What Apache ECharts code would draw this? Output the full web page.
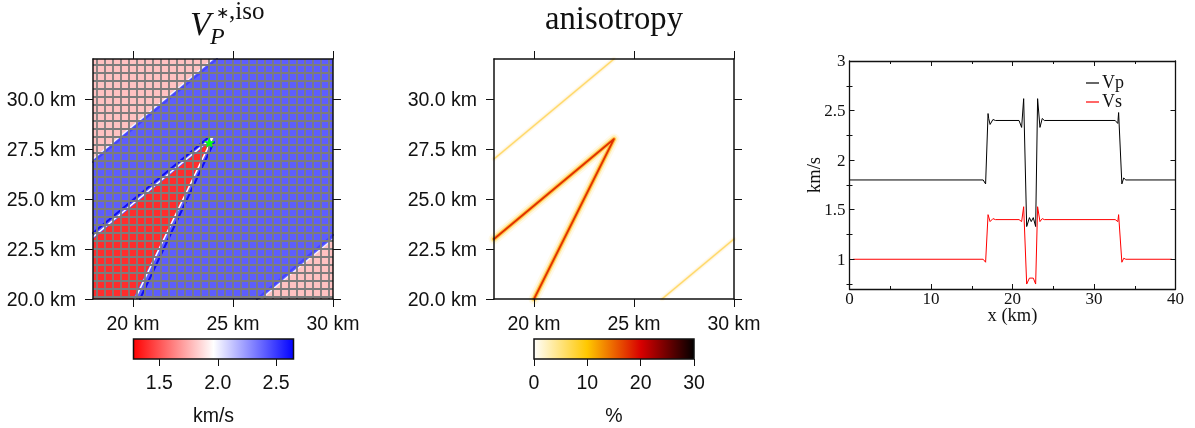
<!DOCTYPE html>
<html><head><meta charset="utf-8">
<style>html,body{margin:0;padding:0;background:#fff}#c{width:1195px;height:428px}</style>
<script src="https://cdn.jsdelivr.net/npm/echarts@6/dist/echarts.min.js"></script>
</head><body><div id="c"></div>
<script>
// ---- data ----
const mapXTicks = [20, 25, 30];
const mapYTicks = [20, 22.5, 25, 27.5, 30];
const meshX = [18.2,18.6,19,19.4,19.8,20.2,20.6,21,21.4,21.8,22.2,22.6,23,23.4,23.8,24.2,24.6,25,25.4,25.8,26.2,26.6,27,27.4,27.8,28.2,28.6,29,29.4,29.8];
const meshY = [20.1,20.5,20.9,21.3,21.7,22.1,22.5,22.9,23.3,23.7,24.1,24.5,24.9,25.3,25.7,26.1,26.5,26.9,27.3,27.7,28.1,28.5,28.9,29.3,29.7,30.1,30.5,30.9,31.3,31.7];
const fullBox = [[18, 20], [30, 20], [30, 32], [18, 32]];
const pinkUpper = [[18, 27], [24, 32], [18, 32]];
const pinkLower = [[26.4, 20], [30, 20], [30, 23]];
const redWedge = [[18, 20], [20, 20], [24, 28], [18, 23]];
const vpBackground = 2.4, vpPink = 1.8, vpRed = 1.4;
const ripplePinkUpper = [[18, 26.85], [24.2, 32]];
const ripplePinkLower = [[26.2, 20], [30, 23.2]];
const whiteEdgeUpper = [[18, 27], [24, 32]];
const whiteEdgeLower = [[26.4, 20], [30, 23]];
const whiteWedge = [[18, 23.1], [24, 28.1], [20.1, 20]];
const darkWedgeUpper = [[18, 23.3], [23.8, 28.1]];
const darkWedgeRight = [[24.05, 27.85], [20.35, 20]];
const starPoint = [[23.82, 27.82]];
const fractureUpper = [[18, 27], [24, 32]];
const fractureLower = [[26.4, 20], [30, 23]];
const fractureWedge = [[18, 23], [24, 28], [20, 20]];
const vpRange = [1.278, 2.649];
const vpBarTicks = [1.5, 2, 2.5];
const anisoRange = [0, 30];
const anisoBarTicks = [0, 10, 20, 30];
const profileYTicks = [1, 1.5, 2, 2.5, 3];
const profileYMinorTicks = [0.75, 1.25, 1.75, 2.25, 2.75];
const vpProfile = [[0,1.8],[16.4,1.8],[16.55,1.82],[16.7,1.76],[17.0,2.47],[17.08,2.42],[17.25,2.36],[17.6,2.41],[17.9,2.4],[20.8,2.4],[20.95,2.42],[21.12,2.33],[21.37,2.62],[21.74,1.33],[22.08,1.42],[22.3,1.38],[22.55,1.42],[22.84,1.33],[23.08,2.62],[23.37,2.33],[23.65,2.42],[23.9,2.4],[32.6,2.4],[32.8,2.41],[32.92,2.37],[33.02,2.48],[33.42,1.76],[33.65,1.82],[33.9,1.8],[40,1.8]];
const vsProfile = [[0.5,1],[16.4,1],[16.55,1.01],[16.7,0.97],[17.0,1.45],[17.25,1.38],[17.6,1.41],[17.9,1.4],[20.8,1.4],[20.95,1.41],[21.12,1.38],[21.37,1.53],[21.74,0.75],[22.08,0.81],[22.3,0.79],[22.55,0.81],[22.84,0.75],[23.08,1.53],[23.37,1.38],[23.65,1.41],[23.9,1.4],[32.6,1.4],[32.8,1.41],[32.92,1.38],[33.02,1.45],[33.42,0.97],[33.65,1.01],[33.9,1],[39.5,1]];

// ---- helpers ----
const FONT = '"Liberation Sans",Helvetica,Arial,sans-serif';
const SERIF = '"Liberation Serif","Times New Roman",serif';
const chart = echarts.init(document.getElementById('c'), null, {renderer:'canvas'});
const STAR = 'path://M50 0 L62 35 L98 35 L69 57 L80 92 L50 71 L20 92 L31 57 L2 35 L38 35 Z';

function vpColor(v){
  const mid=(vpRange[0]+vpRange[1])/2, half=(vpRange[1]-vpRange[0])/2;
  const t=(v-mid)/half;
  const k=Math.round(255*(1-Math.abs(t)));
  return t<0 ? `rgb(255,${k},${k})` : `rgb(${k},${k},255)`;
}
const vpStops=[{offset:0,color:'#ff0000'},{offset:0.5,color:'#ffffff'},{offset:1,color:'#0000ff'}];
const anisoStops=[{offset:0,color:'#ffffff'},{offset:1/3,color:'#ffc800'},{offset:2/3,color:'#d80000'},{offset:1,color:'#000000'}];

const xAxis=[],yAxis=[],grid=[],series=[];
const frame={show:true,onZero:false,lineStyle:{color:'#111',width:1.5}};
const tick={show:true,length:8,inside:false,lineStyle:{color:'#111',width:1}};

function mapPanel(left){
  const g=grid.length;
  grid.push({left,top:59,width:240,height:240,containLabel:false});
  const xi=xAxis.length, yi=yAxis.length;
  xAxis.push({type:'value',gridIndex:g,position:'bottom',min:18,max:30,z:6,axisLine:frame,
    axisTick:{...tick,customValues:mapXTicks},splitLine:{show:false},
    axisLabel:{customValues:mapXTicks,margin:16,fontFamily:FONT,fontSize:19.5,color:'#111',formatter:v=>v+' km',showMaxLabel:true,showMinLabel:true,hideOverlap:false}});
  xAxis.push({type:'value',gridIndex:g,position:'top',min:18,max:30,z:6,axisLine:frame,
    axisTick:{...tick,customValues:mapXTicks},axisLabel:{show:false},splitLine:{show:false}});
  yAxis.push({type:'value',gridIndex:g,position:'left',min:20,max:32,z:6,axisLine:frame,
    axisTick:{...tick,customValues:mapYTicks},splitLine:{show:false},
    axisLabel:{customValues:mapYTicks,margin:17,verticalAlign:'top',lineHeight:4,fontFamily:FONT,fontSize:19.5,color:'#111',formatter:v=>v.toFixed(1)+' km',hideOverlap:false}});
  yAxis.push({type:'value',gridIndex:g,position:'right',min:20,max:32,z:6,axisLine:frame,
    axisTick:{...tick,customValues:mapYTicks},axisLabel:{show:false},splitLine:{show:false}});
  return {xi,yi,g};
}
function polySeries(xi,yi,polys){
  series.push({type:'custom',xAxisIndex:xi,yAxisIndex:yi,z:1,silent:true,
    data:polys.map((p,i)=>[i,p.value]),
    renderItem:(params,api)=>{
      const p=polys[api.value(0)];
      return {type:'polygon',shape:{points:p.pts.map(c=>api.coord(c))},style:{fill:vpColor(api.value(1))}};
    }});
}
function meshSeries(xi,yi,values,vertical){
  series.push({type:'custom',xAxisIndex:xi,yAxisIndex:yi,z:3,silent:true,clip:true,
    data:values.map(v=>[v]),
    renderItem:(params,api)=>{
      const v=api.value(0);
      const a=api.coord(vertical?[v,20]:[18,v]), b=api.coord(vertical?[v,32]:[30,v]);
      return {type:'line',shape:{x1:a[0],y1:a[1],x2:b[0],y2:b[1]},style:{stroke:'#7c7c7c',lineWidth:1.8}};
    }});
}
function lineSeries(xi,yi,data,color,width,z,name){
  const s={type:'line',xAxisIndex:xi,yAxisIndex:yi,data,showSymbol:false,symbol:'none',silent:true,animation:false,z:z||2,
    clip:true,lineStyle:{color,width,cap:'round',join:'round'},itemStyle:{color}};
  if(name)s.name=name;
  series.push(s);
}
function colorBar(left,width,range,stops,ticks,name,nameGap,tickLen){
  const g=grid.length;
  grid.push({left,top:339,width,height:20});
  const xi=xAxis.length, yi=yAxis.length;
  xAxis.push({type:'value',gridIndex:g,min:range[0],max:range[1],position:'bottom',z:6,
    axisLine:{show:false},
    axisTick:{show:true,length:tickLen,inside:false,customValues:ticks,lineStyle:{color:'#111',width:1}},
    splitLine:{show:false},
    axisLabel:{customValues:ticks,margin:15,fontFamily:FONT,fontSize:19.5,color:'#111',hideOverlap:false,formatter:v=>Number.isInteger(v)&&range[0]===0?String(v):v.toFixed(1)},
    name,nameLocation:'middle',nameGap,nameMoveOverlap:false,nameTextStyle:{fontFamily:FONT,fontSize:19.5,color:'#111'}});
  yAxis.push({type:'value',gridIndex:g,min:0,max:1,show:false});
  series.push({type:'custom',xAxisIndex:xi,yAxisIndex:yi,z:2,silent:true,data:[[range[0],range[1]]],
    renderItem:(params,api)=>{
      const a=api.coord([api.value(0),0]), b=api.coord([api.value(1),1]);
      return {type:'rect',shape:{x:a[0],y:b[1],width:b[0]-a[0],height:a[1]-b[1]},
        style:{fill:new echarts.graphic.LinearGradient(0,0,1,0,stops),stroke:'#111',lineWidth:1.5}};
    }});
}

// ---- panel 1 : Vp map ----
const p1=mapPanel(93);
polySeries(p1.xi,p1.yi,[
  {pts:fullBox,value:vpBackground},
  {pts:pinkUpper,value:vpPink},
  {pts:pinkLower,value:vpPink},
  {pts:redWedge,value:vpRed}
]);
lineSeries(p1.xi,p1.yi,ripplePinkUpper,'#4545ff',2);
lineSeries(p1.xi,p1.yi,ripplePinkLower,'#4545ff',2);
lineSeries(p1.xi,p1.yi,whiteEdgeUpper,'#f2f2ff',1.4);
lineSeries(p1.xi,p1.yi,whiteEdgeLower,'#f2f2ff',1.4);
lineSeries(p1.xi,p1.yi,darkWedgeUpper,'#1010f0',2);
lineSeries(p1.xi,p1.yi,darkWedgeRight,'#1010f0',2);
lineSeries(p1.xi,p1.yi,whiteWedge,'#ffffff',1.6);
meshSeries(p1.xi,p1.yi,meshX,true);
meshSeries(p1.xi,p1.yi,meshY,false);
series.push({type:'scatter',xAxisIndex:p1.xi,yAxisIndex:p1.yi,data:starPoint,symbol:STAR,symbolSize:11,z:10,silent:true,itemStyle:{color:'#00ff10',opacity:1}});

// ---- panel 2 : anisotropy map ----
const p2=mapPanel(494);
[[fractureUpper],[fractureLower]].forEach(([d])=>{
  lineSeries(p2.xi,p2.yi,d,'#fffaf0',5);
  lineSeries(p2.xi,p2.yi,d,'#fff0c4',2.6);
  lineSeries(p2.xi,p2.yi,d,'#ffd868',1.1);
});
lineSeries(p2.xi,p2.yi,fractureWedge,'#fffaea',11);
lineSeries(p2.xi,p2.yi,fractureWedge,'#ffeeb4',7);
lineSeries(p2.xi,p2.yi,fractureWedge,'#ffc040',4);
lineSeries(p2.xi,p2.yi,fractureWedge,'#e03000',1.8);

// ---- panel 3 : velocity profile ----
const g3=grid.length;
grid.push({left:849.5,top:61,width:326,height:228});
const ink={color:'#111',width:1};
const x3=xAxis.length,y3=yAxis.length;
const bold={show:true,onZero:false,lineStyle:{color:'#111',width:1.3}};
xAxis.push({type:'value',gridIndex:g3,min:0,max:40,interval:10,position:'bottom',z:6,axisLine:bold,
  axisTick:{show:true,inside:true,length:5,lineStyle:ink},
  minorTick:{show:true,splitNumber:2,length:3,lineStyle:ink},splitLine:{show:false},
  axisLabel:{margin:2,fontFamily:SERIF,fontSize:17,color:'#111',hideOverlap:false},
  name:'x (km)',nameLocation:'middle',nameGap:18,nameMoveOverlap:false,nameTextStyle:{fontFamily:SERIF,fontSize:18.5,color:'#111'}});
xAxis.push({type:'value',gridIndex:g3,min:0,max:40,interval:10,position:'top',z:6,axisLine:bold,
  axisTick:{show:true,inside:true,length:5,lineStyle:ink},
  minorTick:{show:true,splitNumber:2,length:3,lineStyle:ink},splitLine:{show:false},axisLabel:{show:false}});
yAxis.push({type:'value',gridIndex:g3,min:0.7,max:3,position:'left',z:6,axisLine:bold,
  axisTick:{show:true,inside:true,length:5,customValues:profileYTicks,lineStyle:ink},splitLine:{show:false},
  axisLabel:{customValues:profileYTicks,margin:4,verticalAlign:'top',lineHeight:2,fontFamily:SERIF,fontSize:17,color:'#111',hideOverlap:false,formatter:v=>String(v)},
  name:'km/s',nameLocation:'middle',nameGap:25,nameMoveOverlap:false,nameTextStyle:{fontFamily:SERIF,fontSize:18.5,color:'#111'}});
yAxis.push({type:'value',gridIndex:g3,min:0.7,max:3,position:'right',z:6,axisLine:bold,
  axisTick:{show:true,inside:true,length:5,customValues:profileYTicks,lineStyle:ink},splitLine:{show:false},axisLabel:{show:false}});
['left','right'].forEach(position=>yAxis.push({type:'value',gridIndex:g3,min:0.7,max:3,position,z:6,axisLine:{show:false},
  axisTick:{show:true,inside:true,length:3,customValues:profileYMinorTicks,lineStyle:ink},splitLine:{show:false},axisLabel:{show:false}}));
lineSeries(x3,y3,vpProfile,'#000000',1,2,'Vp');
lineSeries(x3,y3,vsProfile,'#ff0000',1,3,'Vs');

// ---- colour bars ----
colorBar(133.5,160,vpRange,vpStops,vpBarTicks,'km/s',48,7);
colorBar(534,160,anisoRange,anisoStops,anisoBarTicks,'%',48,7);

const titleText=(text,left,top,size,italic)=>({text,left,top,padding:0,textStyle:{fontFamily:SERIF,fontSize:size,fontWeight:'normal',fontStyle:italic?'italic':'normal',color:'#111'}});

chart.setOption({
  animation:false,
  backgroundColor:'#fff',
  title:[
    titleText('V',190,9,34,true),
    titleText('P',210,26,24,true),
    titleText('\u2217',216,6,16,false),
    titleText(',iso',229,0,25,false),
    titleText('anisotropy',545,4,32.7,false)
  ],
  legend:{data:['Vp','Vs'],orient:'vertical',left:1081,top:69,itemWidth:13,itemHeight:1.2,itemGap:1,icon:'rect',
    textStyle:{fontFamily:SERIF,fontSize:18,lineHeight:18,color:'#111',padding:[0,0,0,-2]},selectedMode:false},
  grid,xAxis,yAxis,series
});
</script></body></html>
